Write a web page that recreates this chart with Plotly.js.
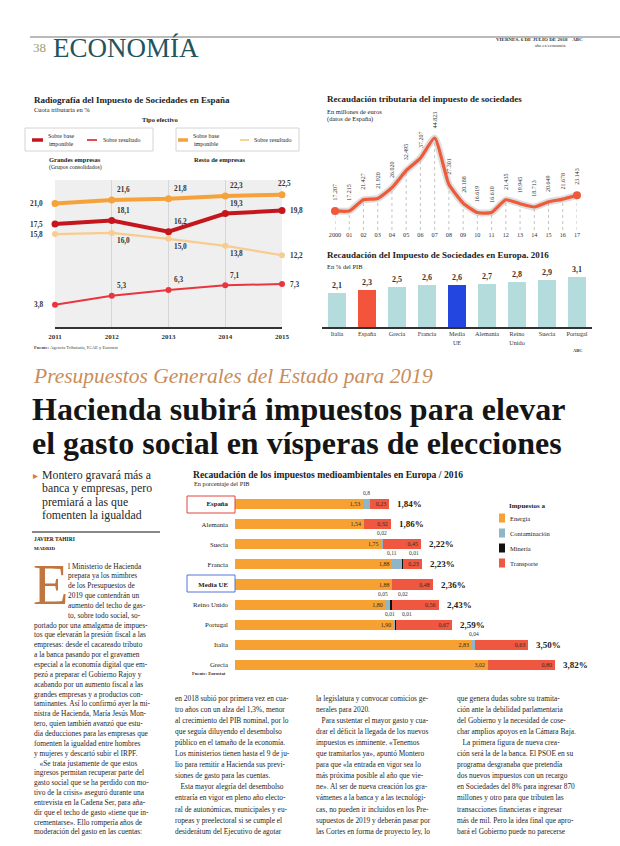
<!DOCTYPE html>
<html><head><meta charset="utf-8">
<script src="https://cdn.plot.ly/plotly-3.0.1.min.js"></script>
<style>html,body{margin:0;padding:0;background:#fff}</style>
</head><body><div id="chart" style="width:620px;height:846px"></div>
<script>
// ---------- Chart A: Radiografía del Impuesto de Sociedades ----------
const yearsA = [2011, 2012, 2013, 2014, 2015];
const grandesBase = [17.5, 18.1, 16.2, 19.3, 19.8];
const grandesResultado = [3.8, 5.3, 6.3, 7.1, 7.3];
const restoBase = [21.0, 21.6, 21.8, 22.3, 22.5];
const restoResultado = [15.8, 16.0, 15.0, 13.8, 12.2];
// ---------- Chart B: Recaudación tributaria ----------
const recLabels = ['2000','01','02','03','04','05','06','07','08','09','10','11','12','13','14','15','16','17'];
const recValues = [17207,17215,21427,21920,26020,32495,37207,44823,27301,20188,16619,16610,21435,19945,18713,20649,21678,23143];
// ---------- Chart C: Impuesto de Sociedades en Europa 2016 ----------
const euCountries = ['Italia','España','Grecia','Francia','Media<br>UE','Alemania','Reino<br>Unido','Suecia','Portugal'];
const euValues = [2.1, 2.3, 2.5, 2.6, 2.6, 2.7, 2.8, 2.9, 3.1];
// ---------- Chart D: impuestos medioambientales ----------
const envCountries = ['España','Alemania','Suecia','Francia','Media UE','Reino Unido','Portugal','Italia','Grecia'];
const energia = [1.53, 1.54, 1.75, 1.88, 1.88, 1.80, 1.90, 2.83, 3.02];
const contaminacion = [0.08, 0, 0.02, 0.11, 0, 0.05, 0.01, 0.04, 0];
const mineria = [0, 0, 0, 0.01, 0, 0.02, 0.01, 0, 0];
const transporte = [0.23, 0.32, 0.45, 0.23, 0.48, 0.56, 0.67, 0.63, 0.80];
const contLabels = ['0,8', '', '0,02', '0,11', '', '0,05', '0,01', '0,04', ''];
const minLabels = ['', '', '', '0,01', '', '0,02', '0,01', '', ''];

// ---------- Article text ----------
const deck = ['Montero gravará más a','banca y empresas, pero','premiará a las que','fomenten la igualdad'];
const col1Indent = ['l Ministerio de Hacienda','prepara ya los mimbres','de los Presupuestos de','2019 que contendrán un','aumento del techo de gas-','to, sobre todo social, so-'];
const col1 = ['portado por una amalgama de impues-','tos que elevarán la presión fiscal a las','empresas: desde el cacareado tributo','a la banca pasando por el gravamen','especial a la economía digital que em-','pezó a preparar el Gobierno Rajoy y','acabando por un aumento fiscal a las','grandes empresas y a productos con-','taminantes. Así lo confirmó ayer la mi-','nistra de Hacienda, María Jesús Mon-','tero, quien también avanzó que estu-','dia deducciones para las empresas que','fomenten la igualdad entre hombres','y mujeres y descartó subir el IRPF.','   «Se trata justamente de que estos','ingresos permitan recuperar parte del','gasto social que se ha perdido con mo-','tivo de la crisis» aseguró durante una','entrevista en la Cadena Ser, para aña-','dir que el techo de gasto «tiene que in-','crementarse». Ello rompería años de','moderación del gasto en las cuentas:'];
const col2 = ['en 2018 subió por primera vez en cua-','tro años con un alza del 1,3%, menor','al crecimiento del PIB nominal, por lo','que seguía diluyendo el desembolso','público en el tamaño de la economía.','Los ministerios tienen hasta el 9 de ju-','lio para remitir a Hacienda sus previ-','siones de gasto para las cuentas.','   Esta mayor alegría del desembolso','entraría en vigor en pleno año electo-','ral de autonómicas, municipales y eu-','ropeas y preelectoral si se cumple el','desiderátum del Ejecutivo de agotar'];
const col3 = ['la legislatura y convocar comicios ge-','nerales para 2020.','   Para sustentar el mayor gasto y cua-','drar el déficit la llegada de los nuevos','impuestos es inminente. «Tenemos','que tramitarlos ya», apuntó Montero','para que «la entrada en vigor sea lo','más próxima posible al año que vie-','ne». Al ser de nueva creación los gra-','vámenes a la banca y a las tecnológi-','cas, no pueden ir incluidos en los Pre-','supuestos de 2019 y deberán pasar por','las Cortes en forma de proyecto ley, lo'];
const col4 = ['que genera dudas sobre su tramita-','ción ante la debilidad parlamentaria','del Gobierno y la necesidad de cose-','char amplios apoyos en la Cámara Baja.','   La primera figura de nueva crea-','ción será la de la banca. El PSOE en su','programa desgranaba que pretendía','dos nuevos impuestos con un recargo','en Sociedades del 8% para ingresar 870','millones y otro para que tributen las','transacciones financieras e ingresar','más de mil. Pero la idea final que apro-','bará el Gobierno puede no parecerse'];

// ---------- helpers ----------
const W = 620, H = 846;
const X = p => p / W;
const Y = p => 1 - p / H;
const SERIF = 'Liberation Serif, DejaVu Serif, serif';
const fmt1 = v => v.toFixed(1).replace('.', ',');
const fmt2 = v => v.toFixed(2).replace('.', ',');
const fmtK = v => Math.round(v).toString().replace(/\B(?=(\d{3})+(?!\d))/g, '.');
const ann = [];
const shapes = [];
function txt(x, y, text, size, opts) {
  opts = opts || {};
  ann.push(Object.assign({
    xref: 'paper', yref: 'paper', x: X(x), y: Y(y), text: text, showarrow: false,
    xanchor: 'left', yanchor: 'middle',
    font: {family: SERIF, size: size, color: opts.color || '#222'}
  }, opts.extra || {}));
}
function hline(x0, x1, y, color, width) {
  shapes.push({type: 'line', xref: 'paper', yref: 'paper', x0: X(x0), x1: X(x1), y0: Y(y), y1: Y(y), line: {color: color, width: width}});
}
function rect(x0, x1, y0, y1, color, width, fill) {
  shapes.push({type: 'rect', xref: 'paper', yref: 'paper', x0: X(x0), x1: X(x1), y0: Y(y0), y1: Y(y1), line: {color: color, width: width}, fillcolor: fill || 'rgba(0,0,0,0)'});
}
function block(lines, x, y0, dy, size) {
  lines.forEach((l, i) => txt(x, y0 + i * dy, l, size, {color: '#262626'}));
}

// ---------- header ----------
hline(30, 620, 37, '#777', 1.2);
txt(31, 48, '38', 13, {color: '#9aa06a'});
txt(51, 48, 'ECONOMÍA', 27, {color: '#1f5560'});
txt(585, 40, '<b>VIERNES, 6 DE JULIO DE 2018    ABC</b>', 5, {color: '#333', extra: {xanchor: 'right'}});
txt(567, 45, 'abc.es/economia', 4.6, {color: '#333', extra: {xanchor: 'right'}});

// ---------- chart A texts ----------
txt(32, 100, '<b>Radiografía del Impuesto de Sociedades en España</b>', 9);
txt(32, 110, 'Cuota tributaria en %', 6.5);
txt(160, 119, '<b>Tipo efectivo</b>', 6.5, {extra: {xanchor: 'center'}});
rect(25, 153, 128, 151, '#d4d4d4', 1);
rect(176, 299, 128, 151, '#d4d4d4', 1);
const cGB = '#c5161d', cGR = '#e8353f', cRB = '#f5a23a', cRR = '#f8cb8f';
shapes.push({type: 'line', xref: 'paper', yref: 'paper', x0: X(32), x1: X(43), y0: Y(140), y1: Y(140), line: {color: cGB, width: 3.5}});
shapes.push({type: 'line', xref: 'paper', yref: 'paper', x0: X(87), x1: X(97), y0: Y(140), y1: Y(140), line: {color: cGR, width: 1.8}});
shapes.push({type: 'line', xref: 'paper', yref: 'paper', x0: X(178), x1: X(188), y0: Y(140), y1: Y(140), line: {color: cRB, width: 3.5}});
shapes.push({type: 'line', xref: 'paper', yref: 'paper', x0: X(240), x1: X(249), y0: Y(140), y1: Y(140), line: {color: cRR, width: 1.8}});
txt(46, 140, 'Sobre base<br>imponible', 6);
txt(101, 140, 'Sobre resultado', 6);
txt(191, 140, 'Sobre base<br>imponible', 6);
txt(252, 140, 'Sobre resultado', 6);
txt(47, 159, '<b>Grandes empresas</b>', 6.5);
txt(47, 167, '(Grupos consolidados)', 5.8);
txt(192, 159, '<b>Resto de empresas</b>', 6.5);
txt(32, 348, '<b>Fuente:</b> Agencia Tributaria, IGAE y Eurostat', 4.6, {color: '#444'});

// ---------- chart B texts ----------
txt(325, 99, '<b>Recaudación tributaria del impuesto de sociedades</b>', 9);
txt(325, 111, 'En millones de euros', 6.5);
txt(325, 119, '(datos de España)', 6.5);

// ---------- chart C texts ----------
txt(325, 255, '<b>Recaudación del Impuesto de Sociedades en Europa. 2016</b>', 9);
txt(325, 266, 'En % del PIB', 6.5);
txt(578, 350, '<b>ABC</b>', 4.5, {color: '#333', extra: {xanchor: 'center'}});

// ---------- headlines ----------
txt(31, 376, '<i>Presupuestos Generales del Estado para 2019</i>', 21.5, {color: '#c98d5c'});
txt(30, 409, '<b>Hacienda subirá impuestos para elevar</b>', 32, {color: '#151515'});
txt(30, 443, '<b>el gasto social en vísperas de elecciones</b>', 32, {color: '#151515'});

// ---------- left column ----------
txt(31, 475, '▸', 10, {color: '#e07a3a'});
block(deck, 40, 475, 13.4, 11.8);
hline(32, 160, 532, '#888', 2);
txt(32, 539, '<b>JAVIER TAHIRI</b>', 5.5);
txt(32, 548.5, '<b>MADRID</b>', 5);
txt(31, 584, 'E', 58, {color: '#c1763f'});
block(col1Indent, 66, 566, 9.85, 7.4);
block(col1, 32, 566 + 6 * 9.85, 9.85, 7.4);
block(col2, 173, 698, 11.1, 7.4);
block(col3, 314, 698, 11.1, 7.4);
block(col4, 455, 698, 11.1, 7.4);

// ---------- chart D texts ----------
txt(191, 474, '<b>Recaudación de los impuestos medioambientales en Europa / 2016</b>', 9.6);
txt(192, 483, 'En porcentaje del PIB', 6.3);
txt(190, 673, '<b>Fuente: Eurostat</b>', 4.6, {color: '#333'});
rect(187, 235, 496, 513, '#e0463c', 1);
rect(187, 235, 575, 592, '#5874d6', 1);
const cEn = '#f7a133', cCo = '#8fb6c6', cMi = '#111111', cTr = '#ef5741';
txt(507, 506, '<b>Impuestos a</b>', 7);
[['Energía', cEn, 518], ['Contaminación', cCo, 533], ['Minería', cMi, 548], ['Transporte', cTr, 563]].forEach(it => {
  rect(499, 505, it[2] - 4.5, it[2] + 4.5, it[1], 0, it[1]);
  txt(508, it[2], it[0], 6.5);
});

// ---------- traces ----------
const traces = [];
// chart A
const lineA = (y, color, w, ms) => ({x: yearsA, y: y, type: 'scatter', mode: 'lines+markers', xaxis: 'x', yaxis: 'y',
  line: {color: color, width: w}, marker: {color: color, size: ms}, cliponaxis: false, hoverinfo: 'skip'});
traces.push(lineA(restoResultado, cRR, 2.2, 6));
traces.push(lineA(grandesResultado, cGR, 2, 6));
traces.push(lineA(restoBase, cRB, 4, 7));
traces.push(lineA(grandesBase, cGB, 4, 7));
shapes.push({type: 'rect', xref: 'x', yref: 'y', x0: yearsA[0], x1: yearsA[yearsA.length - 1], y0: 0, y1: 25, fillcolor: '#efefef', line: {width: 0}, layer: 'below'});
function labelsA(vals, mode) {
  vals.forEach((v, i) => {
    const a = {xref: 'x', yref: 'y', x: yearsA[i], y: v, text: fmt1(v), showarrow: false,
      font: {family: SERIF, size: 7.3, color: '#333', weight: 'bold'}, xanchor: 'left', yanchor: 'middle', xshift: 3, yshift: 0};
    if (i === 0) { a.xanchor = 'right'; a.xshift = -10; }
    else if (i === vals.length - 1 && mode !== 'topLast') { a.xshift = 6; }
    else if (mode === 'below') { a.yshift = -8; }
    else { a.yshift = 10; }
    if (i === vals.length - 1 && mode === 'topLast') { a.xanchor = 'center'; a.xshift = 2; a.yshift = 11; }
    ann.push(a);
  });
}
labelsA(restoBase, 'topLast');
labelsA(grandesBase, 'above');
labelsA(restoResultado, 'below');
labelsA(grandesResultado, 'above');

// chart B
const idxB = recValues.map((v, i) => i);
recValues.forEach((v, i) => {
  shapes.push({type: 'line', xref: 'x2', yref: 'y2', x0: i, x1: i, y0: 10000, y1: v, line: {color: '#b5b5b5', width: 0.8, dash: 'dot'}, layer: 'below'});
  ann.push({xref: 'x2', yref: 'y2', x: i, y: v, text: fmtK(v), textangle: -90, showarrow: false,
    xanchor: 'center', yanchor: 'bottom', yshift: 8, font: {family: SERIF, size: 6, color: '#333'}});
});
traces.push({x: idxB, y: recValues, type: 'scatter', mode: 'lines', xaxis: 'x2', yaxis: 'y2',
  line: {color: 'rgba(180,180,180,0.45)', width: 7, shape: 'spline', smoothing: 0.5}, hoverinfo: 'skip', cliponaxis: false});
traces.push({x: idxB, y: recValues, type: 'scatter', mode: 'lines', xaxis: 'x2', yaxis: 'y2',
  line: {color: '#ee5a3a', width: 3.2, shape: 'spline', smoothing: 0.5}, hoverinfo: 'skip', cliponaxis: false});
traces.push({x: [idxB[0], idxB[idxB.length - 1]], y: [recValues[0], recValues[recValues.length - 1]], type: 'scatter', mode: 'markers',
  xaxis: 'x2', yaxis: 'y2', marker: {color: '#ee5a3a', size: 8}, hoverinfo: 'skip', cliponaxis: false});

// chart C
traces.push({x: euCountries, y: euValues, type: 'bar', xaxis: 'x3', yaxis: 'y3', width: 0.58,
  marker: {color: euCountries.map(c => c === 'España' ? '#f2553b' : (c === 'Media<br>UE' ? '#2446e0' : '#b4dcdc'))},
  text: euValues.map(fmt1), textposition: 'outside', cliponaxis: false,
  textfont: {family: SERIF, size: 8, color: '#333', weight: 'bold'}, hoverinfo: 'skip'});

// chart D
const hbar = (vals, color, showText) => ({y: envCountries, x: vals, type: 'bar', orientation: 'h', xaxis: 'x4', yaxis: 'y4',
  marker: {color: color}, hoverinfo: 'skip',
  text: showText ? vals.map(fmt2) : undefined, textposition: showText ? 'inside' : 'none', insidetextanchor: 'end',
  textfont: {family: SERIF, size: 6, color: '#3a2a1a'}, constraintext: 'none'});
traces.push(hbar(energia, cEn, true));
traces.push(hbar(contaminacion, cCo, false));
traces.push(hbar(mineria, cMi, false));
traces.push(hbar(transporte, cTr, true));
envCountries.forEach((c, i) => {
  const tot = energia[i] + contaminacion[i] + mineria[i] + transporte[i];
  ann.push({xref: 'x4', yref: 'y4', x: tot, y: c, text: '<b>' + fmt2(tot) + '%</b>', showarrow: false,
    xanchor: 'left', yanchor: 'middle', xshift: 6, font: {family: SERIF, size: 9, color: '#222'}});
  const base = energia[i];
  if (contLabels[i]) {
    ann.push({xref: 'x4', yref: 'y4', x: base + contaminacion[i] / 2, y: c, text: contLabels[i], showarrow: false,
      xanchor: minLabels[i] ? 'right' : 'center', yanchor: 'bottom', yshift: 6, xshift: minLabels[i] ? 2 : 0,
      font: {family: SERIF, size: 5.5, color: '#333'}});
  }
  if (minLabels[i]) {
    ann.push({xref: 'x4', yref: 'y4', x: base + contaminacion[i] + mineria[i] / 2, y: c, text: minLabels[i], showarrow: false,
      xanchor: 'left', yanchor: 'bottom', yshift: 6, xshift: 5, font: {family: SERIF, size: 5.5, color: '#333'}});
  }
});

const dxD = 83.77; // px per unit
const layout = {
  width: W, height: H, margin: {l: 0, r: 0, t: 0, b: 0}, paper_bgcolor: '#fff', plot_bgcolor: 'rgba(0,0,0,0)',
  showlegend: false, barmode: 'stack', bargap: 0.5, font: {family: SERIF},
  xaxis: {domain: [X(55), X(282)], range: [2011, 2015], anchor: 'y', tickvals: yearsA, ticks: '', showline: true,
    linecolor: '#333', linewidth: 2, showgrid: true, gridcolor: '#d6d6d6', zeroline: false,
    tickfont: {family: SERIF, size: 7, color: '#333', weight: 'bold'}, ticklabelstandoff: 2, fixedrange: true},
  yaxis: {domain: [Y(327), Y(180)], range: [0, 25], anchor: 'x', visible: false, showgrid: false, fixedrange: true},
  xaxis2: {domain: [X(335), X(577)], range: [0, 17], anchor: 'y2', tickvals: idxB, ticktext: recLabels, ticks: '',
    showline: false, showgrid: false, zeroline: false, tickfont: {family: SERIF, size: 6.2, color: '#333'}, fixedrange: true},
  yaxis2: {domain: [Y(230), Y(125)], range: [10000, 49750], anchor: 'x2', visible: false, fixedrange: true},
  xaxis3: {domain: [X(322), X(592)], anchor: 'y3', type: 'category', ticks: '', showline: true, linecolor: '#333',
    linewidth: 2, showgrid: false, tickfont: {family: SERIF, size: 6.2, color: '#333'}, fixedrange: true},
  yaxis3: {domain: [Y(327), Y(269)], range: [0, 3.6], anchor: 'x3', visible: false, fixedrange: true},
  xaxis4: {domain: [X(235), X(235 + 4.4 * dxD)], range: [0, 4.4], anchor: 'y4', visible: false, fixedrange: true},
  yaxis4: {domain: [Y(675), Y(494)], anchor: 'x4', type: 'category', autorange: 'reversed', ticks: '',
    tickvals: envCountries, ticktext: envCountries.map(c => (c === 'España' || c === 'Media UE') ? '<b>' + c + '</b>' : c),
    showline: false, showgrid: false, zeroline: false, ticklabelstandoff: 6,
    tickfont: {family: SERIF, size: 6.8, color: '#222'}, fixedrange: true},
  annotations: ann, shapes: shapes
};
Plotly.newPlot('chart', traces, layout, {staticPlot: true, displayModeBar: false});
</script></body></html>
